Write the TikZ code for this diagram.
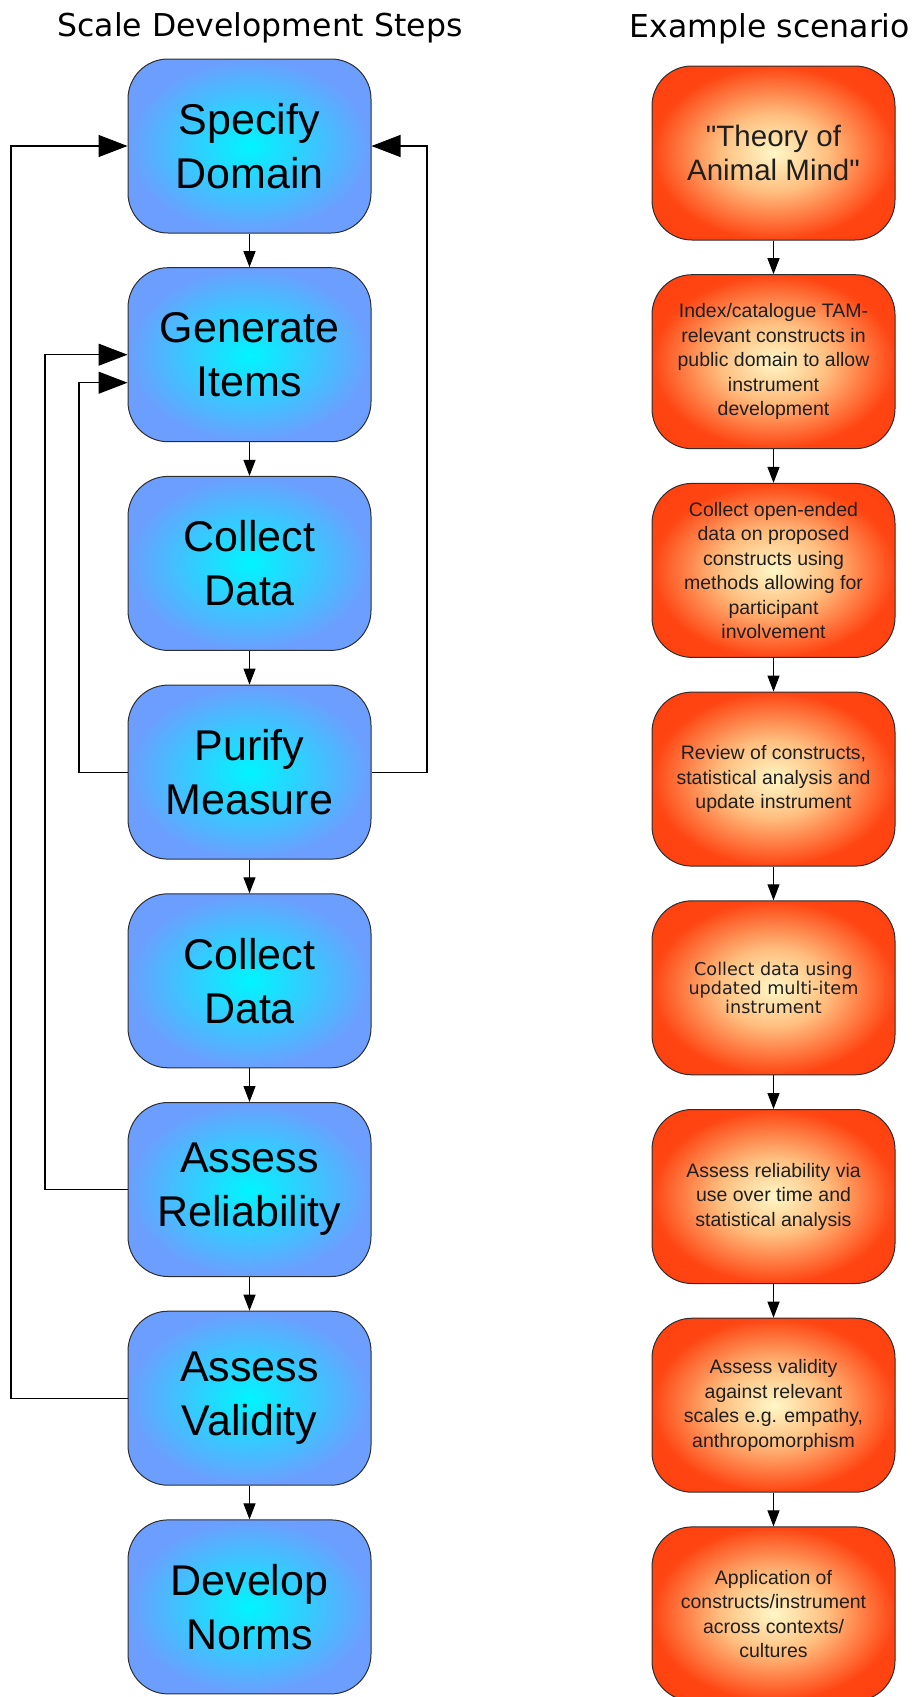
\documentclass[tikz,border=0pt]{standalone}
\usepackage{fontspec}
\setmainfont{Liberation Sans}
\newfontfamily\headfont{DejaVu Sans}
\usetikzlibrary{arrows.meta}
\definecolor{stepin}{RGB}{0,245,255}
\definecolor{stepout}{RGB}{108,158,255}
\definecolor{edgegray}{RGB}{45,45,45}
\pgfdeclareradialshading{scenshade}{\pgfpoint{0bp}{0bp}}{rgb(0bp)=(1,0.97,0.78); rgb(11bp)=(1,0.75,0.5); rgb(25bp)=(1,0.27,0.07); rgb(50bp)=(1,0.22,0.04)}
\tikzset{
  box/.style={rectangle, rounded corners=40pt, minimum width=243pt, minimum height=174pt,
    inner sep=0pt, draw=edgegray, line width=1pt, align=center},
  stepbox/.style={box, inner color=stepin, outer color=stepout, font=\fontsize{43}{54}\selectfont},
  scenbox/.style={box, shading=scenshade, text=black!88,
    font=\fontsize{19.5}{24.5}\selectfont},
  head/.style={anchor=base, font=\headfont\fontsize{31.5}{36}\selectfont},
  down/.style={-{Triangle[length=16pt,width=12pt]}, line width=1.1pt},
  back/.style={-{Triangle[length=29pt,width=22pt]}, line width=1.1pt},
}
\begin{document}
\begin{tikzpicture}[x=1pt,y=-1pt]
        \useasboundingbox (0,0) rectangle (915,1697);
        \node[head] (lefthead) at (260,36.5) {Scale Development Steps};
        \node[head] (righthead) at (770,37) {Example scenario};
        % steps
        \node[stepbox] (spec) at (249.5,146) {Specify\\Domain};
        \node[stepbox] (gen) at (249.5,354.7) {Generate\\Items};
        \node[stepbox] (colla) at (249.5,563.4) {Collect\\Data};
        \node[stepbox] (purify) at (249.5,772.1) {Purify\\Measure};
        \node[stepbox] (collb) at (249.5,980.8) {Collect\\Data};
        \node[stepbox] (reliab) at (249.5,1189.5) {Assess\\Reliability};
        \node[stepbox] (valid) at (249.5,1398.2) {Assess\\Validity};
        \node[stepbox] (norms) at (249.5,1606.9) {Develop\\Norms};
        % scenario
        \node[scenbox, font=\fontsize{29.5}{33.5}\selectfont] (sc1) at (773.5,153) {\textquotedbl Theory of\\Animal Mind\textquotedbl};
        \node[scenbox] (sc2) at (773.5,361.7) {Index/catalogue TAM-\\relevant constructs in\\public domain to allow\\instrument\\development};
        \node[scenbox] (sc3) at (773.5,570.4) {Collect open-ended\\data on proposed\\constructs using\\methods allowing for\\participant\\involvement};
        \node[scenbox] (sc4) at (773.5,779.1) {Review of constructs,\\statistical analysis and\\update instrument};
        \node[scenbox, font=\headfont\fontsize{17.6}{19}\selectfont] (sc5) at (773.5,987.8) {Collect data using\\updated multi-item\\instrument};
        \node[scenbox] (sc6) at (773.5,1196.5) {Assess reliability via\\use over time and\\statistical analysis};
        \node[scenbox] (sc7) at (773.5,1405.2) {Assess validity\\against relevant\\scales e.g. empathy,\\anthropomorphism};
        \node[scenbox] (sc8) at (773.5,1613.9) {Application of\\constructs/instrument\\across contexts/\\cultures};
        \foreach \a/\b in {spec/gen, gen/colla, colla/purify, purify/collb, collb/reliab, reliab/valid, valid/norms}
          \draw[down] (\a.south) -- (\b.north);
        \foreach \i [evaluate=\i as \j using int(\i+1)] in {1,...,7}
          \draw[down] (sc\i.south) -- (sc\j.north);
        % feedback loops
        \coordinate (railA) at (11,0);
        \coordinate (railB) at (45,0);
        \coordinate (railC) at (79,0);
        \coordinate (railD) at (427,0);
        \draw[back] (valid.west) -- (valid.west -| railA) |- (spec.west);
        \draw[back] (reliab.west) -- (reliab.west -| railB) |- (gen.west);
        \draw[back] (purify.west) -- (purify.west -| railC) |- ([yshift=-28pt]gen.west);
        \draw[back] (purify.east) -- (purify.east -| railD) |- (spec.east);
\end{tikzpicture}
\end{document}
